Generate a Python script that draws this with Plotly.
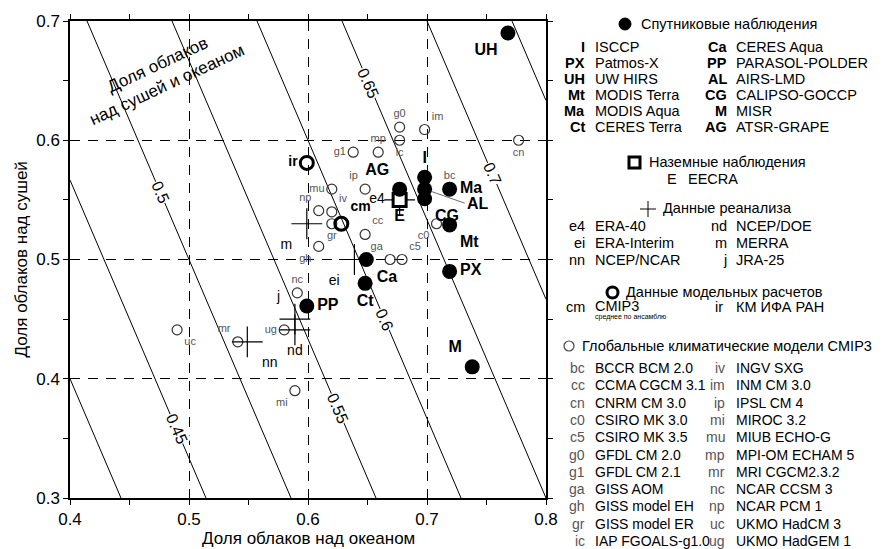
import plotly.graph_objects as go

# ---------------- data ----------------
# Satellite observations (filled circles): cloud fraction over ocean (x) and land (y)
sat_codes = ["UH", "I", "AL", "CG", "AG", "Ma", "Mt", "PX", "Ca", "Ct", "PP", "M"]
sat_ocean = [0.768, 0.698, 0.698, 0.698, 0.677, 0.719, 0.719, 0.719, 0.649, 0.648, 0.599, 0.738]
sat_land = [0.690, 0.569, 0.559, 0.551, 0.559, 0.559, 0.529, 0.490, 0.500, 0.480, 0.461, 0.410]

# Ground observations
ground_codes = ["E"]
ground_ocean = [0.677]
ground_land = [0.550]

# Reanalyses
rean_codes = ["e4", "ei", "nn", "nd", "m", "j"]
rean_ocean = [0.677, 0.639, 0.549, 0.589, 0.599, 0.589]
rean_land = [0.550, 0.500, 0.431, 0.441, 0.530, 0.450]

# Model calculations
model_codes = ["cm", "ir"]
model_ocean = [0.628, 0.599]
model_land = [0.530, 0.581]

# CMIP3 global climate models
cmip_codes = ["bc", "cc", "cn", "c0", "c5", "g0", "g1", "ga", "gh", "gr", "ic",
              "iv", "im", "ip", "mi", "mu", "mp", "mr", "nc", "np", "uc", "ug"]
cmip_ocean = [0.719, 0.648, 0.777, 0.708, 0.679, 0.677, 0.638, 0.669, 0.609, 0.620, 0.677,
              0.620, 0.698, 0.648, 0.589, 0.620, 0.659, 0.541, 0.591, 0.609, 0.490, 0.580]
cmip_land = [0.559, 0.521, 0.600, 0.530, 0.500, 0.611, 0.590, 0.500, 0.511, 0.530, 0.600,
             0.540, 0.609, 0.559, 0.390, 0.559, 0.590, 0.431, 0.472, 0.541, 0.441, 0.441]

# Global cloud fraction isolines (ocean weight) and labelled levels
ocean_weight = 0.7
contour_levels = [0.40, 0.45, 0.50, 0.55, 0.60, 0.65, 0.70, 0.75]
label_levels = [0.45, 0.50, 0.55, 0.60, 0.65, 0.70]
label_land = [0.358, 0.556, 0.375, 0.450, 0.648, 0.572]
label_texts = ["0.45", "0.5", "0.55", "0.6", "0.65", "0.7"]

# Axis ticks
x_ticks = [0.4, 0.5, 0.6, 0.7, 0.8]
y_ticks = [0.3, 0.4, 0.5, 0.6, 0.7]

# Legend content
sat_leg_codes1 = ["I", "PX", "UH", "Mt", "Ma", "Ct"]
sat_leg_names1 = ["ISCCP", "Patmos-X", "UW HIRS", "MODIS Terra", "MODIS Aqua", "CERES Terra"]
sat_leg_codes2 = ["Ca", "PP", "AL", "CG", "M", "AG"]
sat_leg_names2 = ["CERES Aqua", "PARASOL-POLDER", "AIRS-LMD", "CALIPSO-GOCCP", "MISR", "ATSR-GRAPE"]
rean_leg_codes1 = ["e4", "ei", "nn"]
rean_leg_names1 = ["ERA-40", "ERA-Interim", "NCEP/NCAR"]
rean_leg_codes2 = ["nd", "m", "j"]
rean_leg_names2 = ["NCEP/DOE", "MERRA", "JRA-25"]
cmip_leg_codes1 = ["bc", "cc", "cn", "c0", "c5", "g0", "g1", "ga", "gh", "gr", "ic"]
cmip_leg_names1 = ["BCCR BCM 2.0", "CCMA CGCM 3.1", "CNRM CM 3.0", "CSIRO MK 3.0", "CSIRO MK 3.5",
                   "GFDL CM 2.0", "GFDL CM 2.1", "GISS AOM", "GISS model EH", "GISS model ER",
                   "IAP FGOALS-g1.0"]
cmip_leg_codes2 = ["iv", "im", "ip", "mi", "mu", "mp", "mr", "nc", "np", "uc", "ug"]
cmip_leg_names2 = ["INGV SXG", "INM CM 3.0", "IPSL CM 4", "MIROC 3.2", "MIUB ECHO-G",
                   "MPI-OM ECHAM 5", "MRI CGCM2.3.2", "NCAR CCSM 3", "NCAR PCM 1",
                   "UKMO HadCM 3", "UKMO HadGEM 1"]

# ---------------- layout geometry ----------------
W, H = 885, 549
PL, PR, PT, PB = 62, 538, 13, 490
FONT = "Liberation Sans, Arial, sans-serif"
X0, X1, Y0, Y1 = 0.4, 0.8, 0.3, 0.7


def px(xp):
    return (xp - PL) / (PR - PL)


def py(yp):
    return (PB - yp) / (PB - PT)


fig = go.Figure()

# isolines of global cloud fraction
for f in contour_levels:
    xs_top = (f - (1 - ocean_weight) * Y1) / ocean_weight
    xs_bot = (f - (1 - ocean_weight) * Y0) / ocean_weight
    pts = []
    for (xa, ya) in [(xs_top, Y1), (xs_bot, Y0)]:
        if xa < X0:
            xa = X0
            ya = (f - ocean_weight * X0) / (1 - ocean_weight)
        if xa > X1:
            xa = X1
            ya = (f - ocean_weight * X1) / (1 - ocean_weight)
        pts.append((xa, ya))
    fig.add_trace(go.Scatter(x=[p[0] for p in pts], y=[p[1] for p in pts], mode="lines",
                             line=dict(color="black", width=1), hoverinfo="skip", showlegend=False))

annotations = []
for lev, yl, txt in zip(label_levels, label_land, label_texts):
    xl = (lev - (1 - ocean_weight) * yl) / ocean_weight
    annotations.append(dict(x=xl, y=yl, xref="x", yref="y", text=txt, showarrow=False,
                            textangle=66.5, bgcolor="white", borderpad=0,
                            font=dict(size=16, color="black", family=FONT)))

# CMIP3 models
cmip_pos = ["top center", "top right", "bottom center", "bottom left", "top right", "top center",
            "middle left", "top left", "bottom left", "bottom center", "bottom center",
            "top right", "top right", "top left", "bottom left", "middle left", "top center",
            "top left", "top center", "top left", "bottom right", "middle left"]
fig.add_trace(go.Scatter(x=cmip_ocean, y=cmip_land, mode="markers+text", text=cmip_codes,
                         textposition=cmip_pos, cliponaxis=False,
                         textfont=dict(size=11, color="#555555", family=FONT),
                         marker=dict(symbol="circle-open", size=10, color="#333333",
                                     line=dict(width=1.2, color="#333333")),
                         showlegend=False))

# Reanalyses
rean_pos = ["middle left", "bottom left", "bottom right", "bottom center", "bottom left", "top left"]
fig.add_trace(go.Scatter(x=rean_ocean, y=rean_land, mode="markers+text", text=rean_codes,
                         textposition=rean_pos, cliponaxis=False,
                         textfont=dict(size=14, color="black", family=FONT),
                         marker=dict(symbol="cross-thin-open", size=22, color="black",
                                     line=dict(width=1.2, color="black")),
                         showlegend=False))

# Ground observations
fig.add_trace(go.Scatter(x=ground_ocean, y=ground_land, mode="markers+text",
                         text=["<b>" + c + "</b>" for c in ground_codes],
                         textposition="bottom center", cliponaxis=False,
                         textfont=dict(size=16, color="black", family=FONT),
                         marker=dict(symbol="square", size=13, color="white",
                                     line=dict(width=3, color="black")),
                         showlegend=False))

# Satellite observations
sat_pos = ["bottom left", "top center", "middle right", "bottom right", "top left", "middle right",
           "bottom right", "middle right", "bottom right", "bottom center", "middle right", "top left"]
sat_text = ["<b>" + c + "</b>" if c != "AL" else "" for c in sat_codes]
fig.add_trace(go.Scatter(x=sat_ocean, y=sat_land, mode="markers+text", text=sat_text,
                         textposition=sat_pos, cliponaxis=False,
                         textfont=dict(size=16, color="black", family=FONT),
                         marker=dict(symbol="circle", size=15, color="black"),
                         showlegend=False))
i_al = sat_codes.index("AL")
annotations.append(dict(x=sat_ocean[i_al], y=sat_land[i_al], xref="x", yref="y",
                        text="<b>AL</b>", showarrow=True, arrowhead=0, arrowwidth=0.8,
                        arrowcolor="#444444", ax=40, ay=14, standoff=6, xanchor="left",
                        font=dict(size=16, color="black", family=FONT)))

# Model calculations (thick circles)
model_pos = ["top right", "middle left"]
fig.add_trace(go.Scatter(x=model_ocean, y=model_land, mode="markers+text",
                         text=["<b>" + c + "</b>" for c in model_codes],
                         textposition=model_pos, cliponaxis=False,
                         textfont=dict(size=14, color="black", family=FONT),
                         marker=dict(symbol="circle-open", size=13, color="black",
                                     line=dict(width=3, color="black")),
                         showlegend=False))

# Rotated annotation inside plot
annotations.append(dict(x=0.478, y=0.655, xref="x", yref="y",
                        text="Доля облаков<br>над сушей и океаном", showarrow=False,
                        textangle=-25, align="center",
                        font=dict(size=17, color="black", family=FONT)))

# Axis titles
annotations.append(dict(x=0.5, y=py(530), xref="paper", yref="paper",
                        text="Доля облаков над океаном", showarrow=False,
                        font=dict(size=17, color="black", family=FONT), yanchor="middle"))
annotations.append(dict(x=px(13), y=0.5, xref="paper", yref="paper",
                        text="Доля облаков над сушей", showarrow=False, textangle=-90,
                        font=dict(size=17, color="black", family=FONT), xanchor="center"))

# ---------------- legend (text + symbols) ----------------
LF = 14.5
HF = 14.5
CF = 14


def ann(xp, yp, text, size=LF, anchor="left", color="black"):
    annotations.append(dict(x=px(xp), y=py(yp), xref="paper", yref="paper", text=text,
                            showarrow=False, xanchor=anchor, yanchor="middle",
                            font=dict(size=size, color=color, family=FONT)))


shapes = []
C1R, C1N, C2R, C2N = 579, 585, 721, 726

# satellites
shapes.append(dict(type="circle", xref="paper", yref="paper", x0=px(611), x1=px(623),
                   y0=py(22), y1=py(10), fillcolor="black", line=dict(color="black", width=1)))
ann(631, 16, "Спутниковые наблюдения", size=HF)
for i in range(6):
    yy = 39 + 16 * i
    ann(C1R, yy, "<b>" + sat_leg_codes1[i] + "</b>", anchor="right")
    ann(C1N, yy, sat_leg_names1[i])
    ann(C2R, yy, "<b>" + sat_leg_codes2[i] + "</b>", anchor="right")
    ann(C2N, yy, sat_leg_names2[i])

# ground
shapes.append(dict(type="rect", xref="paper", yref="paper", x0=px(621), x1=px(632),
                   y0=py(160), y1=py(149), fillcolor="white", line=dict(color="black", width=3)))
ann(639, 154, "Наземные наблюдения", size=HF)
ann(671, 171, "E", anchor="right")
ann(678, 171, "EECRA")

# reanalysis
shapes.append(dict(type="line", xref="paper", yref="paper", x0=px(632), x1=px(648),
                   y0=py(201), y1=py(201), line=dict(color="black", width=1)))
shapes.append(dict(type="line", xref="paper", yref="paper", x0=px(640), x1=px(640),
                   y0=py(193), y1=py(209), line=dict(color="black", width=1)))
ann(653, 200, "Данные реанализа", size=HF)
for i in range(3):
    yy = 218 + 17 * i
    ann(C1R, yy, rean_leg_codes1[i], anchor="right")
    ann(C1N, yy, rean_leg_names1[i])
    ann(C2R, yy, rean_leg_codes2[i], anchor="right")
    ann(C2N, yy, rean_leg_names2[i])

# model calculations
shapes.append(dict(type="circle", xref="paper", yref="paper", x0=px(599), x1=px(610),
                   y0=py(290), y1=py(279), line=dict(color="black", width=3)))
ann(616, 284, "Данные модельных расчетов", size=HF)
ann(C1R, 299, "cm", anchor="right")
ann(C1N, 298, "CMIP3")
ann(C1N, 309, "среднее по ансамблю", size=7)
ann(C2R - 4, 299, "ir", anchor="right")
ann(C2N, 299, "КМ ИФА РАН")

# CMIP3
shapes.append(dict(type="circle", xref="paper", yref="paper", x0=px(556), x1=px(566),
                   y0=py(343), y1=py(333), line=dict(color="#444444", width=1.2)))
ann(572, 338, "Глобальные климатические модели CMIP3", size=HF)
for i in range(11):
    yy = 360 + 17.3 * i
    ann(C1R, yy, cmip_leg_codes1[i], anchor="right", color="#555555", size=CF)
    ann(C1N, yy, cmip_leg_names1[i], size=CF)
    ann(C2R - 2, yy, cmip_leg_codes2[i], anchor="right", color="#555555", size=CF)
    ann(C2N, yy, cmip_leg_names2[i], size=CF)

# legend frame right edge
shapes.append(dict(type="line", xref="paper", yref="paper", x0=px(877), x1=px(877),
                   y0=py(0), y1=py(549), line=dict(color="#555555", width=1)))

axis_common = dict(showline=True, linecolor="black", linewidth=1.5, mirror="ticks",
                   ticks="outside", ticklen=5, tickcolor="black", tickwidth=1,
                   showgrid=True, gridcolor="black", gridwidth=1, griddash="10px,8px",
                   zeroline=False, tickformat=".1f",
                   tickfont=dict(size=17, color="black", family=FONT),
                   minor=dict(dtick=0.05, ticks="outside", ticklen=5, tickcolor="black",
                              showgrid=False))

fig.update_layout(
    width=W, height=H,
    margin=dict(l=PL, r=W - PR, t=PT, b=H - PB, autoexpand=False),
    paper_bgcolor="white", plot_bgcolor="white",
    xaxis=dict(range=[X0, X1], tickvals=x_ticks, **axis_common),
    yaxis=dict(range=[Y0, Y1], tickvals=y_ticks, **axis_common),
    annotations=annotations, shapes=shapes,
    font=dict(family=FONT, color="black"),
    showlegend=False,
)

fig.write_html("out.html")
